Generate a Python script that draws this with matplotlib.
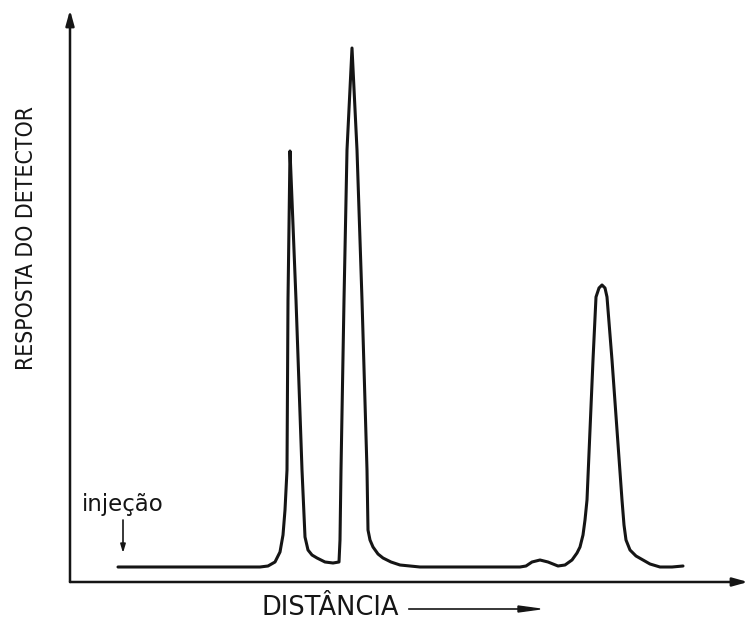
import matplotlib.pyplot as plt

# chromatogram trace (arbitrary units)
distance = [48, 190, 198, 205, 210, 213, 215, 217, 218, 220, 222, 226, 232,
            235, 238, 242, 247, 255, 263, 269, 270, 271, 274, 277, 282, 287,
            292, 297, 298, 300, 303, 308, 313, 321, 330, 350, 450, 456, 462,
            470, 478, 488, 495, 502, 507, 510, 513, 515, 517, 520, 523, 526,
            529, 532, 535, 537, 542, 547, 552, 554, 556, 560, 566, 573, 580,
            590, 602, 613]
response = [15, 15, 16, 20, 30, 47, 72, 112, 282, 431, 382, 282, 112,
            45, 32, 27, 24, 20, 19, 20, 42, 112, 282, 432, 534, 432,
            282, 112, 52, 42, 35, 28, 24, 20, 17, 15, 15, 16, 20,
            22, 20, 16, 17, 22, 29, 35, 47, 62, 82, 152, 222, 285,
            294, 297, 294, 285, 222, 152, 82, 57, 42, 32, 26, 22, 18,
            15, 15, 16]

y_label = "RESPOSTA DO DETECTOR"
x_label = "DISTÂNCIA"
inject_label = "injeção"
inject_at = 53

fig = plt.figure(figsize=(7.51, 6.23), dpi=100)
ax = fig.add_axes([70 / 751, 41 / 623, 678 / 751, 572 / 623])
ax.set_xlim(0, 678)
ax.set_ylim(0, 572)
ax.axis("off")

ink = "#151515"
ax.plot(distance, response, color=ink, lw=2.2, solid_joinstyle="round",
        solid_capstyle="round")

# axes with arrow heads
arrow = dict(arrowstyle="-|>,head_length=0.9,head_width=0.25", color=ink, lw=1.8,
             shrinkA=0, shrinkB=0)
ax.annotate("", xy=(0, 1), xytext=(0, 0), xycoords="axes fraction",
            arrowprops=arrow, annotation_clip=False)
ax.annotate("", xy=(1, 0), xytext=(0, 0), xycoords="axes fraction",
            arrowprops=arrow, annotation_clip=False)

# injection marker
ax.annotate("", xy=(inject_at, 29), xytext=(inject_at, 62),
            arrowprops=dict(arrowstyle="-|>,head_length=0.5,head_width=0.15",
                            color=ink, lw=1.2, shrinkA=0, shrinkB=0))
ax.text(12, 77, inject_label, fontsize=16.5, color=ink, ha="left", va="center",
        family=["DejaVu Sans"])

fig.text(27 / 751, 1 - 238 / 623, y_label, rotation=90, ha="center", va="center",
         fontsize=16.5, color=ink, family=["DejaVu Sans"], stretch="condensed")
fig.text(262 / 751, 1 - 608 / 623, x_label, ha="left", va="center",
         fontsize=18.5, color=ink, family=["DejaVu Sans"])
fig.add_artist(plt.Line2D([409 / 751, 520 / 751], [1 - 609 / 623] * 2, color=ink, lw=1.2))
fig.patches.append(plt.Polygon([[518 / 751, 1 - 606 / 623], [540 / 751, 1 - 609 / 623],
                                [518 / 751, 1 - 612 / 623]], closed=True,
                               transform=fig.transFigure, color=ink))

fig.savefig("out.png", dpi=100)
